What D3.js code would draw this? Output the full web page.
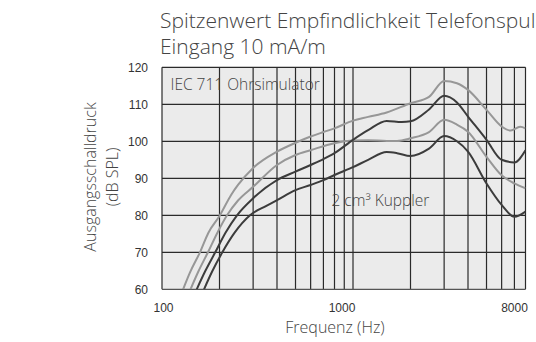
<!DOCTYPE html>
<html><head><meta charset="utf-8">
<script src="https://cdn.jsdelivr.net/npm/d3@7"></script>
<style>
body{margin:0;background:#fff;}
svg{display:block;}
.light{font-family:"Open Sans",Lato,sans-serif;font-weight:300;fill:#444;}
.tick text{font-family:"Liberation Sans",Arial,sans-serif;fill:#333;}
</style>
</head><body>
<svg id="c" width="536" height="342"></svg>
<script>
const titleLines = ["Spitzenwert Empfindlichkeit Telefonspule", "Eingang 10 mA/m"];
const yLabelLines = ["Ausgangsschalldruck", "(dB SPL)"];
const xLabel = "Frequenz (Hz)";
const xTicks = [100, 1000, 8000];
const yTicks = [60, 70, 80, 90, 100, 110, 120];
const gridFreqs = [100,200,300,400,500,600,700,800,900,1000,2000,3000,4000,5000,6000,7000,8000];
const annotations = ["IEC 711 Ohrsimulator", "2 cm³ Kuppler"];

// Curve A: upper light grey
const freqA = [129,140,158,175,200,230,250,300,400,500,600,700,800,1000,1200,1500,2000,2500,3000,3500,4000,5000,6000,6700,7500,8000];
const valA  = [60,64.5,70,75.3,79.8,85.5,88.2,92.8,97.2,99.6,101.3,102.5,103.5,105.6,106.6,107.8,110.3,112,116.3,115.7,113.9,108.5,104.0,102.9,103.9,103.5];
// Curve B: upper dark
const freqB = [152,168,190,215,247,300,400,500,600,700,800,1000,1200,1500,1800,2000,2500,3000,3500,4000,5000,6000,7000,8000];
const valB  = [60,64.8,70,75.3,80,84.6,89.5,91.8,93.6,95.2,96.8,100.4,103,105.5,105.2,105.4,108.6,112.3,110.5,106.7,100.4,95.0,94.3,97.6];
// Curve C: lower light grey
const freqC = [141,155,174,195,219,250,300,400,500,600,800,1000,1200,1500,1700,2000,2500,3000,3500,4000,5000,6000,7000,8000];
const valC  = [60,64.8,70,75.3,80,84,87.7,93.6,96.3,97.6,99.5,100.2,100.3,100.1,100.1,100.8,102.5,105.8,104.5,102.6,95.8,90.8,88.6,87.3];
// Curve D: lower dark
const freqD = [166,183,207,240,289,350,400,500,600,700,800,1000,1200,1500,1700,2000,2500,3000,3500,4000,5000,6000,7000,8000];
const valD  = [60,64.8,70,75.3,80,82.5,84.1,86.8,88.2,89.5,90.9,93,95,97.1,96.8,96,98,101.4,100,97.2,88.6,82.8,79.6,81];

const series = [
  {f:freqA, v:valA, color:"#979797"},
  {f:freqC, v:valC, color:"#979797"},
  {f:freqB, v:valB, color:"#3c3c3c"},
  {f:freqD, v:valD, color:"#3c3c3c"}
];

const svg = d3.select("#c");
const L = 162, R = 525.5, T = 67.3, B = 289.3;
const x = d3.scaleLog().domain([100, 8000]).range([L, R]);
const y = d3.scaleLinear().domain([60, 120]).range([B, T]);

svg.append("rect").attr("x", L).attr("y", T).attr("width", R-L).attr("height", B-T).attr("fill", "#ebebeb");

svg.append("defs").append("clipPath").attr("id","clip")
  .append("rect").attr("x", L).attr("y", T).attr("width", R-L).attr("height", B-T);

const g = svg.append("g");
g.selectAll("line.v").data(gridFreqs).join("line")
  .attr("x1", d=>x(d)).attr("x2", d=>x(d)).attr("y1", T).attr("y2", B)
  .attr("stroke", "#2a2a2a").attr("stroke-width", 1.2);
g.selectAll("line.h").data(yTicks).join("line")
  .attr("x1", L).attr("x2", R).attr("y1", d=>y(d)).attr("y2", d=>y(d))
  .attr("stroke", d=> d===60 ? "#555" : "#2a2a2a").attr("stroke-width", 1.2);

const line = d3.line().x(d=>x(d[0])).y(d=>y(d[1])).curve(d3.curveMonotoneX);
svg.append("g").attr("clip-path","url(#clip)").selectAll("path").data(series).join("path")
  .attr("d", s => line(s.f.map((f,i)=>[f, s.v[i]])))
  .attr("fill","none").attr("stroke", s=>s.color).attr("stroke-width", 2);

const yAxis = svg.append("g").attr("transform", `translate(${L-14},0)`)
  .call(d3.axisLeft(y).tickValues(yTicks).tickSize(0).tickPadding(0).tickFormat(d3.format("d")));
yAxis.select(".domain").remove();
yAxis.selectAll("text").attr("font-size", 12);

const xAxis = svg.append("g").attr("transform", `translate(0,${B+14})`)
  .call(d3.axisBottom(x).tickValues(xTicks).tickSize(0).tickPadding(0).tickFormat(d3.format("d")));
xAxis.select(".domain").remove();
xAxis.selectAll("text").attr("font-size", 12).attr("dx", d => d===100 ? 1 : -11.5);

svg.append("text").attr("class","light").attr("x",160).attr("y",27.5).attr("font-size",21).text(titleLines[0]);
svg.append("text").attr("class","light").attr("x",160).attr("y",54).attr("font-size",21).text(titleLines[1]);

const yl = svg.append("text").attr("class","light").attr("font-size",16)
  .attr("transform","translate(0,177) rotate(-90)").attr("text-anchor","middle");
yl.append("tspan").attr("x",0).attr("y",96).text(yLabelLines[0]);
yl.append("tspan").attr("x",0).attr("y",118).text(yLabelLines[1]);

svg.append("text").attr("class","light").attr("font-size",16).attr("text-anchor","middle")
  .attr("x",335).attr("y",333).text(xLabel);

svg.append("text").attr("class","light").attr("font-size",15.5).attr("x",170.5).attr("y",89.5).text(annotations[0]);
svg.append("text").attr("class","light").attr("font-size",15.5).attr("x",331.5).attr("y",205.5).text(annotations[1]);
</script>
</body></html>
